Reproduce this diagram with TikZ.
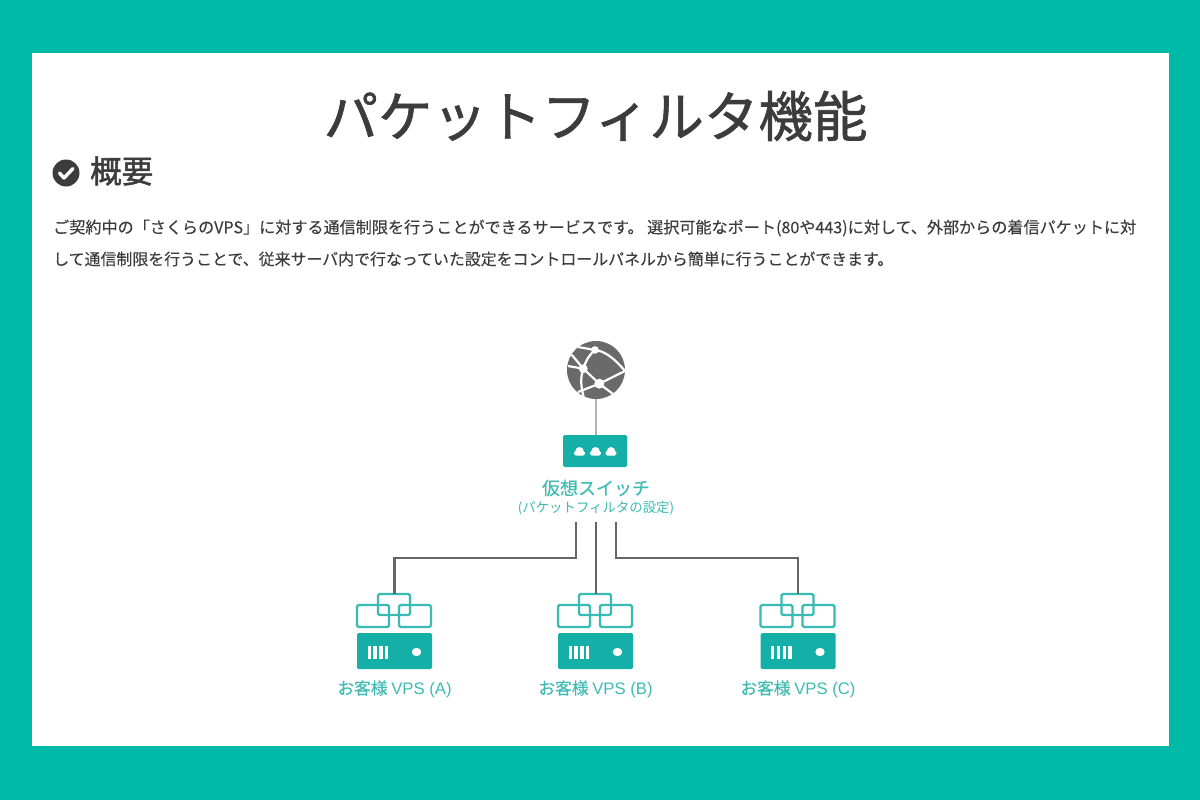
\documentclass[tikz,border=0pt]{standalone}
\usepackage{fontspec}
\setmainfont{Noto Sans CJK JP}
\newfontfamily\medf[FakeBold=1.1]{Noto Sans CJK JP}
\newfontfamily\headf[FakeBold=1.6]{Noto Sans CJK JP}
\newfontfamily\lightf[FakeBold=0.12]{Noto Sans CJK JP}
\newfontfamily\latf{Liberation Sans}
\newcommand{\fs}[1]{\fontsize{#1}{#1}\selectfont}
\definecolor{frame}{HTML}{00BAA8}
\definecolor{teal}{HTML}{14AFA6}
\definecolor{tealtxt}{HTML}{3DBBB2}
\definecolor{ink}{HTML}{3C3C3C}
\definecolor{wire}{HTML}{666666}
\definecolor{globe}{HTML}{6A6A6A}
\tikzset{
 x=1pt,y=-1pt,
 txt/.style={inner sep=0pt,text=ink},
 bodytxt/.style={txt,anchor=west},
 lab/.style={inner sep=0pt,text=tealtxt},
 solidbox/.style={fill=teal,rounded corners=1.5pt,draw=none},
 outl/.style={draw=teal!85!white,line width=2.4pt,rounded corners=1.5pt},
 wireln/.style={draw=wire,line width=2.4pt},
 gl/.style={white,line width=2.2pt},
 gd/.style={fill=white,draw=none},
}
\newcommand{\vps}[3]{% dx, id, letter
\begin{scope}[xshift=#1pt]
 \draw[outl] (357,605) rectangle (389,627);
 \draw[outl] (399,605) rectangle (431,627);
 \draw[outl] (378,594) rectangle (410,615);
 \coordinate (top#2) at (394.5,594);
 \fill[solidbox] (357,633) rectangle (432,669);
 \foreach \vx in {367.5,373.3,379.1,384.9}{\fill[white] (\vx,645.5) rectangle +(3.4,13.5);}
 \fill[white] (416.5,652) circle[x radius=4.7,y radius=4.2];
 \node[lab,font=\lightf\fs{16.7}] (label#2) at (394.5,689) {お客様 {\latf VPS (#3)}};
\end{scope}}
\newcommand{\cloudicon}[1]{%
 \begin{scope}[xshift=#1pt]
 \fill[white,rounded corners=1.6pt] (-5.4,455.6) rectangle (5.4,451);
 \fill[white] (0,451.2) circle[radius=4.2];
 \end{scope}}
\begin{document}
\begin{tikzpicture}
\useasboundingbox (0,0) rectangle (1200,800);
\fill[frame] (0,0) rectangle (1200,800);
\fill[white] (32,53) rectangle (1169,746);
\node[txt,font=\medf\fs{54.5}] (title) at (595.5,116) {パケットフィルタ機能};
\fill[ink] (66,173) circle[radius=13.5];
\draw[white,line width=3.4pt,line cap=round,line join=round] (59.5,173) -- (64,178) -- (73,168.5);
\node[txt,anchor=west,font=\headf\fs{31.5}] (head) at (90,171) {概要};
\node[bodytxt,font=\lightf\fs{16.1}] (l1) at (53,228) {ご契約中の「さくらのVPS」に対する通信制限を行うことができるサービスです。 選択可能なポート(80や443)に対して、外部からの着信パケットに対};
\node[bodytxt,font=\lightf\fs{15.93}] (l2) at (53,259) {して通信制限を行うことで、従来サーバ内で行なっていた設定をコントロールパネルから簡単に行うことができます。};
% globe
\node[circle,fill=globe,minimum size=58pt,inner sep=0pt] (globe) at (596,370) {};
\begin{scope}
 \clip (596,370) circle[radius=29];
 \draw[gl] (571.7,354.7) -- (583.3,368.7) -- (568,366);
 \draw[gl] (583.3,368.7) .. controls (586,360) and (590,354) .. (595,350) -- (578,347);
 \draw[gl] (595,350) .. controls (605,351) and (615,359) .. (625,371);
 \draw[gl] (625,371) -- (599.3,383.7) -- (583.3,368.7);
 \draw[gl] (599.3,383.7) -- (613,394);
 \draw[gl] (599.3,383.7) -- (578,392);
 \draw[gl] (583.3,368.7) .. controls (580,378) and (581,388) .. (584,398);
 \fill[gd] (583.3,368.7) circle[radius=4.4] (599.3,383.7) circle[radius=5] (595,350) circle[radius=3.8];
\end{scope}
% switch
\node[solidbox,minimum width=64pt,minimum height=32pt,inner sep=0pt] (switch) at (595,451) {};
\cloudicon{579.5}\cloudicon{595.5}\cloudicon{611}
\draw[draw=black!30,line width=2.4pt] (globe.south) -- (globe.south |- switch.north);
\node[lab,font=\lightf\fs{18}] (swl) at (596,488) {仮想スイッチ};
\node[lab,font=\fs{13.4}] (swsub) at (596,508) {(パケットフィルタの設定)};
\vps{0}{A}{A}
\vps{201}{B}{B}
\vps{403.5}{C}{C}
\coordinate (sa) at (576,522);
\coordinate (sb) at (596,522);
\coordinate (sc) at (616,522);
\draw[wireln] (sa) -- ++(0,36) -| (topA);
\draw[wireln] (sb) -- (sb |- topB);
\draw[wireln] (sc) -- ++(0,36) -| (topC);
\end{tikzpicture}
\end{document}
